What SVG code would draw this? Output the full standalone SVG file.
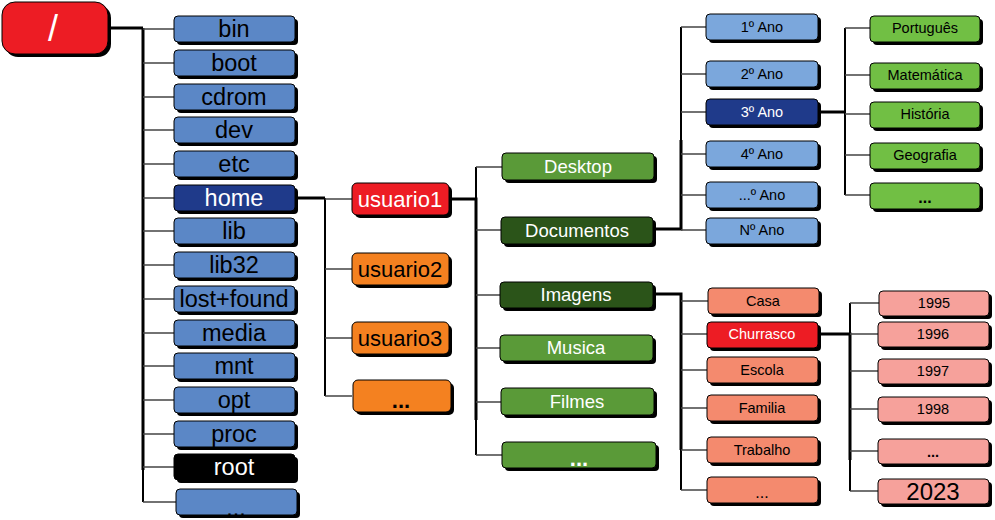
<svg xmlns="http://www.w3.org/2000/svg" width="995" height="520" viewBox="0 0 995 520">
<style>
text{font-family:"Liberation Sans",Arial,sans-serif;text-anchor:middle}
.sh{fill:#000}
.bx{stroke:#000;stroke-width:1}
.thick{stroke:#000;stroke-width:3;fill:none}
.trunk{stroke:#000;stroke-width:2;fill:none}
.br{stroke:#444;stroke-width:1.3;fill:none}
.blue .bx{fill:#5b87c6}
.dblue .bx{fill:#1f3a8a}
.black .bx{fill:#000}
.red .bx{fill:#ed1c24}
.orange .bx{fill:#f48120}
.green .bx{fill:#5a9a38}
.dgreen .bx{fill:#2b5419}
.lblue .bx{fill:#7ba7dc}
.lgreen .bx{fill:#71bf44}
.salmon .bx{fill:#f48a6e}
.pink .bx{fill:#f6a19b}
.w{fill:#fff}
.k{fill:#000}
.f22{font-size:23.5px}
.f20{font-size:22px}
.f17{font-size:18.5px}
.f14{font-size:14.5px}
</style>
<g id="connectors">
<path class="thick" d="M108 28H143"/>
<path class="trunk" d="M143 28V502"/>
<path class="thick" d="M143 28V470"/>
<path class="br" d="M143 29H174M143 63H174M143 97H174M143 130H174M143 164H174M143 198H174M143 231H174M143 265H174M143 299H174M143 333H174M143 366H174M143 400H174M143 434H174M143 467H174M143 502H176"/>
<path class="thick" d="M295 198H325"/>
<path class="trunk" d="M325 198V396"/>
<path class="br" d="M325 199H352M325 269H352M325 338H352M325 396H352"/>
<path class="thick" d="M450 199H476V420"/>
<path class="trunk" d="M476 167V455"/>
<path class="br" d="M476 167H502M476 230H501M476 295H500M476 348H500M476 402H501M476 455H502"/>
<path class="thick" d="M653 229H681V140"/>
<path class="trunk" d="M681 27V230"/>
<path class="br" d="M681 27H706M681 74H706M681 112H706M681 154H706M681 195H706M681 230H706"/>
<path class="thick" d="M818 112H845"/>
<path class="trunk" d="M845 28V195"/>
<path class="br" d="M845 28H870M845 75H870M845 114H870M845 155H870M845 195H870"/>
<path class="thick" d="M653 294H681V450"/>
<path class="trunk" d="M681 294V490"/>
<path class="br" d="M681 301H708M681 334H707M681 370H707M681 408H707M681 450H707M681 490H707"/>
<path class="thick" d="M818 334H850V460"/>
<path class="trunk" d="M850 303V491"/>
<path class="br" d="M850 303H879M850 334H878M850 371H878M850 409H878M850 451H878M850 491H878"/>
</g>
<g id="n-root-dir" class="red"><rect class="sh" x="5" y="5" width="106" height="52" rx="13"/><rect class="bx" x="2" y="2" width="106" height="52" rx="13"/><text class="w" x="53" y="41" style="font-size:36px">/</text></g>
<g id="n-bin" class="blue"><rect class="sh" x="177" y="19" width="121" height="26" rx="4"/><rect class="bx" x="174" y="16" width="121" height="26" rx="4"/><text class="k f22" x="234" y="37">bin</text></g>
<g id="n-boot" class="blue"><rect class="sh" x="177" y="53" width="121" height="26" rx="4"/><rect class="bx" x="174" y="50" width="121" height="26" rx="4"/><text class="k f22" x="234" y="71">boot</text></g>
<g id="n-cdrom" class="blue"><rect class="sh" x="177" y="87" width="121" height="26" rx="4"/><rect class="bx" x="174" y="84" width="121" height="26" rx="4"/><text class="k f22" x="234" y="105">cdrom</text></g>
<g id="n-dev" class="blue"><rect class="sh" x="177" y="120" width="121" height="26" rx="4"/><rect class="bx" x="174" y="117" width="121" height="26" rx="4"/><text class="k f22" x="234" y="138">dev</text></g>
<g id="n-etc" class="blue"><rect class="sh" x="177" y="154" width="121" height="26" rx="4"/><rect class="bx" x="174" y="151" width="121" height="26" rx="4"/><text class="k f22" x="234" y="172">etc</text></g>
<g id="n-home" class="dblue"><rect class="sh" x="177" y="188" width="121" height="26" rx="4"/><rect class="bx" x="174" y="185" width="121" height="26" rx="4"/><text class="w f22" x="234" y="206">home</text></g>
<g id="n-lib" class="blue"><rect class="sh" x="177" y="221" width="121" height="26" rx="4"/><rect class="bx" x="174" y="218" width="121" height="26" rx="4"/><text class="k f22" x="234" y="239">lib</text></g>
<g id="n-lib32" class="blue"><rect class="sh" x="177" y="255" width="121" height="26" rx="4"/><rect class="bx" x="174" y="252" width="121" height="26" rx="4"/><text class="k f22" x="234" y="273">lib32</text></g>
<g id="n-lostfound" class="blue"><rect class="sh" x="177" y="289" width="121" height="26" rx="4"/><rect class="bx" x="174" y="286" width="121" height="26" rx="4"/><text class="k f22" x="234" y="307">lost+found</text></g>
<g id="n-media" class="blue"><rect class="sh" x="177" y="323" width="121" height="26" rx="4"/><rect class="bx" x="174" y="320" width="121" height="26" rx="4"/><text class="k f22" x="234" y="341">media</text></g>
<g id="n-mnt" class="blue"><rect class="sh" x="177" y="356" width="121" height="26" rx="4"/><rect class="bx" x="174" y="353" width="121" height="26" rx="4"/><text class="k f22" x="234" y="374">mnt</text></g>
<g id="n-opt" class="blue"><rect class="sh" x="177" y="390" width="121" height="26" rx="4"/><rect class="bx" x="174" y="387" width="121" height="26" rx="4"/><text class="k f22" x="234" y="408">opt</text></g>
<g id="n-proc" class="blue"><rect class="sh" x="177" y="424" width="121" height="26" rx="4"/><rect class="bx" x="174" y="421" width="121" height="26" rx="4"/><text class="k f22" x="234" y="442">proc</text></g>
<g id="n-root" class="black"><rect class="sh" x="177" y="457" width="121" height="26" rx="4"/><rect class="bx" x="174" y="454" width="121" height="26" rx="4"/><text class="w f22" x="234" y="475">root</text></g>
<g id="n-etc-more" class="blue"><rect class="sh" x="179" y="492" width="121" height="26" rx="4"/><rect class="bx" x="176" y="489" width="121" height="26" rx="4"/><text class="k f22" x="236" y="516">...</text></g>
<g id="n-usuario1" class="red"><rect class="sh" x="355" y="186" width="97" height="32" rx="5"/><rect class="bx" x="352" y="183" width="97" height="32" rx="5"/><text class="w f20" x="400" y="207">usuario1</text></g>
<g id="n-usuario2" class="orange"><rect class="sh" x="355" y="256" width="97" height="32" rx="5"/><rect class="bx" x="352" y="253" width="97" height="32" rx="5"/><text class="k f20" x="400" y="277">usuario2</text></g>
<g id="n-usuario3" class="orange"><rect class="sh" x="355" y="325" width="97" height="32" rx="5"/><rect class="bx" x="352" y="322" width="97" height="32" rx="5"/><text class="k f20" x="400" y="346">usuario3</text></g>
<g id="n-usuario-more" class="orange"><rect class="sh" x="356" y="383" width="98" height="32" rx="5"/><rect class="bx" x="353" y="380" width="98" height="32" rx="5"/><text class="k f20" x="401" y="408" style="font-weight:bold">...</text></g>
<g id="n-desktop" class="green"><rect class="sh" x="505" y="156" width="152" height="27" rx="4"/><rect class="bx" x="502" y="153" width="152" height="27" rx="4"/><text class="w f17" x="578" y="173">Desktop</text></g>
<g id="n-documentos" class="dgreen"><rect class="sh" x="504" y="220" width="152" height="27" rx="4"/><rect class="bx" x="501" y="217" width="152" height="27" rx="4"/><text class="w f17" x="577" y="237">Documentos</text></g>
<g id="n-imagens" class="dgreen"><rect class="sh" x="503" y="285" width="153" height="26" rx="4"/><rect class="bx" x="500" y="282" width="153" height="26" rx="4"/><text class="w f17" x="576" y="301">Imagens</text></g>
<g id="n-musica" class="green"><rect class="sh" x="503" y="338" width="153" height="26" rx="4"/><rect class="bx" x="500" y="335" width="153" height="26" rx="4"/><text class="w f17" x="576" y="354">Musica</text></g>
<g id="n-filmes" class="green"><rect class="sh" x="504" y="391" width="153" height="27" rx="4"/><rect class="bx" x="501" y="388" width="153" height="27" rx="4"/><text class="w f17" x="577" y="408">Filmes</text></g>
<g id="n-green-more" class="green"><rect class="sh" x="505" y="445" width="154" height="26" rx="4"/><rect class="bx" x="502" y="442" width="154" height="26" rx="4"/><text class="w f20" x="579" y="466" style="font-weight:bold">...</text></g>
<g id="n-ano1" class="lblue"><rect class="sh" x="709" y="17" width="112" height="26" rx="4"/><rect class="bx" x="706" y="14" width="112" height="26" rx="4"/><text class="k f14" x="762" y="32">1º Ano</text></g>
<g id="n-ano2" class="lblue"><rect class="sh" x="709" y="64" width="112" height="26" rx="4"/><rect class="bx" x="706" y="61" width="112" height="26" rx="4"/><text class="k f14" x="762" y="79">2º Ano</text></g>
<g id="n-ano3" class="dblue"><rect class="sh" x="709" y="102" width="112" height="26" rx="4"/><rect class="bx" x="706" y="99" width="112" height="26" rx="4"/><text class="w f14" x="762" y="117">3º Ano</text></g>
<g id="n-ano4" class="lblue"><rect class="sh" x="709" y="144" width="112" height="26" rx="4"/><rect class="bx" x="706" y="141" width="112" height="26" rx="4"/><text class="k f14" x="762" y="159">4º Ano</text></g>
<g id="n-ano-more" class="lblue"><rect class="sh" x="709" y="185" width="112" height="26" rx="4"/><rect class="bx" x="706" y="182" width="112" height="26" rx="4"/><text class="k f14" x="762" y="200">...º Ano</text></g>
<g id="n-anoN" class="lblue"><rect class="sh" x="709" y="221" width="112" height="26" rx="4"/><rect class="bx" x="706" y="218" width="112" height="26" rx="4"/><text class="k f14" x="762" y="235">Nº Ano</text></g>
<g id="n-portugues" class="lgreen"><rect class="sh" x="873" y="19" width="110" height="26" rx="4"/><rect class="bx" x="870" y="16" width="110" height="26" rx="4"/><text class="k f14" x="925" y="33">Português</text></g>
<g id="n-matematica" class="lgreen"><rect class="sh" x="873" y="66" width="110" height="26" rx="4"/><rect class="bx" x="870" y="63" width="110" height="26" rx="4"/><text class="k f14" x="925" y="80">Matemática</text></g>
<g id="n-historia" class="lgreen"><rect class="sh" x="873" y="105" width="110" height="26" rx="4"/><rect class="bx" x="870" y="102" width="110" height="26" rx="4"/><text class="k f14" x="925" y="119">História</text></g>
<g id="n-geografia" class="lgreen"><rect class="sh" x="873" y="146" width="110" height="26" rx="4"/><rect class="bx" x="870" y="143" width="110" height="26" rx="4"/><text class="k f14" x="925" y="160">Geografia</text></g>
<g id="n-materia-more" class="lgreen"><rect class="sh" x="873" y="186" width="110" height="26" rx="4"/><rect class="bx" x="870" y="183" width="110" height="26" rx="4"/><text class="k f14" x="925" y="203" style="font-weight:bold;font-size:16px">...</text></g>
<g id="n-casa" class="salmon"><rect class="sh" x="711" y="291" width="111" height="26" rx="4"/><rect class="bx" x="708" y="288" width="111" height="26" rx="4"/><text class="k f14" x="763" y="306">Casa</text></g>
<g id="n-churrasco" class="red"><rect class="sh" x="710" y="325" width="111" height="26" rx="4"/><rect class="bx" x="707" y="322" width="111" height="26" rx="4"/><text class="w f14" x="762" y="339">Churrasco</text></g>
<g id="n-escola" class="salmon"><rect class="sh" x="710" y="360" width="111" height="26" rx="4"/><rect class="bx" x="707" y="357" width="111" height="26" rx="4"/><text class="k f14" x="762" y="375">Escola</text></g>
<g id="n-familia" class="salmon"><rect class="sh" x="710" y="398" width="111" height="26" rx="4"/><rect class="bx" x="707" y="395" width="111" height="26" rx="4"/><text class="k f14" x="762" y="413">Familia</text></g>
<g id="n-trabalho" class="salmon"><rect class="sh" x="710" y="440" width="111" height="26" rx="4"/><rect class="bx" x="707" y="437" width="111" height="26" rx="4"/><text class="k f14" x="762" y="455">Trabalho</text></g>
<g id="n-img-more" class="salmon"><rect class="sh" x="710" y="480" width="111" height="26" rx="4"/><rect class="bx" x="707" y="477" width="111" height="26" rx="4"/><text class="k f14" x="762" y="498" style="font-size:16px">...</text></g>
<g id="n-1995" class="pink"><rect class="sh" x="882" y="294" width="110" height="25" rx="4"/><rect class="bx" x="879" y="291" width="110" height="25" rx="4"/><text class="k f14" x="934" y="308">1995</text></g>
<g id="n-1996" class="pink"><rect class="sh" x="881" y="325" width="111" height="25" rx="4"/><rect class="bx" x="878" y="322" width="111" height="25" rx="4"/><text class="k f14" x="933" y="339">1996</text></g>
<g id="n-1997" class="pink"><rect class="sh" x="881" y="362" width="111" height="25" rx="4"/><rect class="bx" x="878" y="359" width="111" height="25" rx="4"/><text class="k f14" x="933" y="376">1997</text></g>
<g id="n-1998" class="pink"><rect class="sh" x="881" y="400" width="111" height="25" rx="4"/><rect class="bx" x="878" y="397" width="111" height="25" rx="4"/><text class="k f14" x="933" y="414">1998</text></g>
<g id="n-year-more" class="pink"><rect class="sh" x="881" y="442" width="111" height="25" rx="4"/><rect class="bx" x="878" y="439" width="111" height="25" rx="4"/><text class="k f14" x="933" y="457" style="font-weight:bold">...</text></g>
<g id="n-2023" class="pink"><rect class="sh" x="881" y="482" width="111" height="25" rx="4"/><rect class="bx" x="878" y="479" width="111" height="25" rx="4"/><text class="k" x="933" y="500" style="font-size:24px">2023</text></g>
</svg>
